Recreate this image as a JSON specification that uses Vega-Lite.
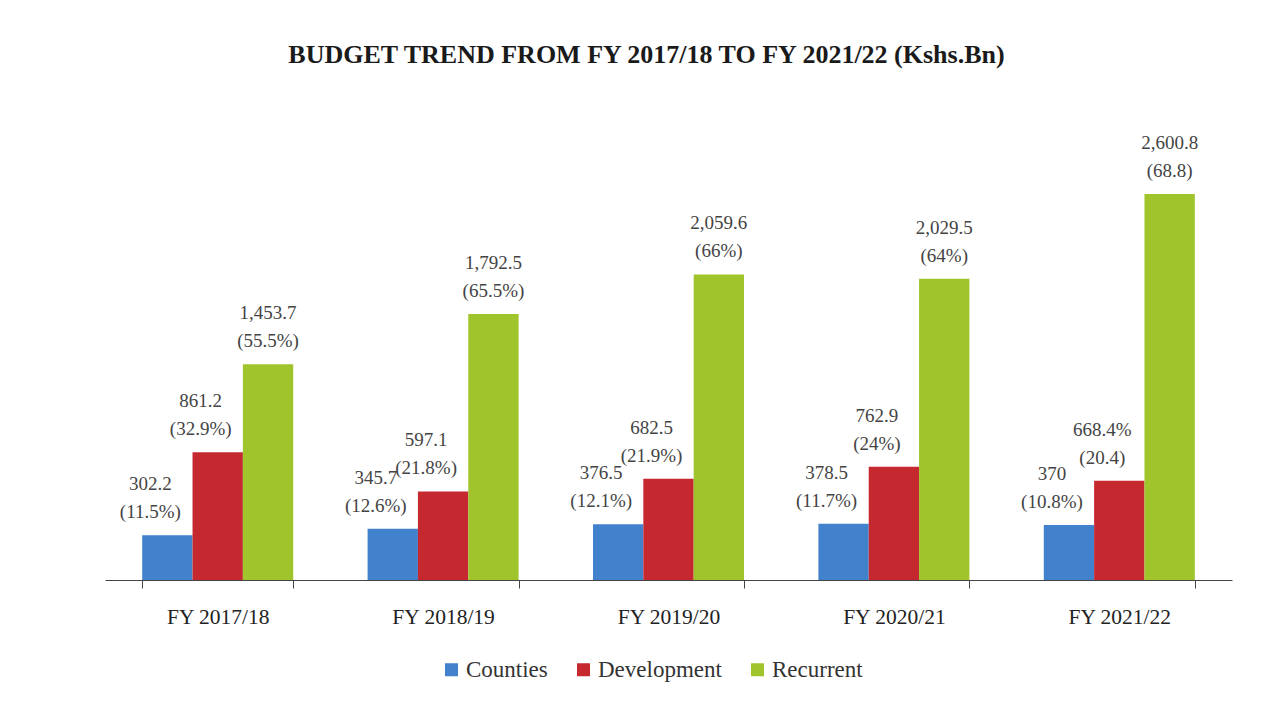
{
  "$schema": "https://vega.github.io/schema/vega-lite/v6.json",
  "width": 1127,
  "height": 460,
  "padding": {"left": 105, "top": 42, "right": 40, "bottom": 10},
  "background": "white",
  "title": {
    "text": "BUDGET TREND FROM FY 2017/18 TO FY 2021/22 (Kshs.Bn)",
    "font": "Liberation Serif",
    "fontSize": 26,
    "fontWeight": "bold",
    "color": "#1a1a1a",
    "anchor": "middle",
    "dx": -22,
    "offset": 52
  },
  "data": {
    "values": [
      {"year": "FY 2017/18", "category": "Counties", "value": 302.2, "label": "302.2\n(11.5%)"},
      {"year": "FY 2017/18", "category": "Development", "value": 861.2, "label": "861.2\n(32.9%)"},
      {"year": "FY 2017/18", "category": "Recurrent", "value": 1453.7, "label": "1,453.7\n(55.5%)"},
      {"year": "FY 2018/19", "category": "Counties", "value": 345.7, "label": "345.7\n(12.6%)"},
      {"year": "FY 2018/19", "category": "Development", "value": 597.1, "label": "597.1\n(21.8%)"},
      {"year": "FY 2018/19", "category": "Recurrent", "value": 1792.5, "label": "1,792.5\n(65.5%)"},
      {"year": "FY 2019/20", "category": "Counties", "value": 376.5, "label": "376.5\n(12.1%)"},
      {"year": "FY 2019/20", "category": "Development", "value": 682.5, "label": "682.5\n(21.9%)"},
      {"year": "FY 2019/20", "category": "Recurrent", "value": 2059.6, "label": "2,059.6\n(66%)"},
      {"year": "FY 2020/21", "category": "Counties", "value": 378.5, "label": "378.5\n(11.7%)"},
      {"year": "FY 2020/21", "category": "Development", "value": 762.9, "label": "762.9\n(24%)"},
      {"year": "FY 2020/21", "category": "Recurrent", "value": 2029.5, "label": "2,029.5\n(64%)"},
      {"year": "FY 2021/22", "category": "Counties", "value": 370, "label": "370\n(10.8%)"},
      {"year": "FY 2021/22", "category": "Development", "value": 668.4, "label": "668.4%\n(20.4)"},
      {"year": "FY 2021/22", "category": "Recurrent", "value": 2600.8, "label": "2,600.8\n(68.8)"}
    ]
  },
  "encoding": {
    "x": {
      "field": "year",
      "type": "nominal",
      "sort": null,
      "title": null,
      "scale": {"paddingInner": 0.33, "paddingOuter": 0.165},
      "axis": {
        "labelAngle": 0,
        "labelFont": "Liberation Serif",
        "labelFontSize": 21.5,
        "labelColor": "#222",
        "labelPadding": 18,
        "domainColor": "#444",
        "tickColor": "#444",
        "tickSize": 8,
        "tickBand": "extent",
        "grid": false
      }
    },
    "xOffset": {
      "field": "category",
      "type": "nominal",
      "sort": ["Counties", "Development", "Recurrent"],
      "scale": {"paddingInner": 0, "paddingOuter": 0}
    },
    "y": {
      "field": "value",
      "type": "quantitative",
      "scale": {"domain": [0, 3100]},
      "axis": null
    }
  },
  "layer": [
    {
      "mark": {"type": "bar"},
      "encoding": {
        "color": {
          "field": "category",
          "type": "nominal",
          "scale": {
            "domain": ["Counties", "Development", "Recurrent"],
            "range": ["#4281CC", "#C5282F", "#9FC42C"]
          },
          "legend": {
            "title": null,
            "orient": "none",
            "direction": "horizontal",
            "legendX": 335,
            "legendY": 538,
            "symbolType": "square",
            "symbolSize": 169,
            "symbolStrokeWidth": 0,
            "labelFont": "Liberation Serif",
            "labelFontSize": 23,
            "labelColor": "#333",
            "labelOffset": 3,
            "columnPadding": 24
          }
        }
      }
    },
    {
      "transform": [{"filter": "datum.category !== 'Recurrent'"}],
      "mark": {
        "type": "text",
        "lineBreak": "\n",
        "lineHeight": 28,
        "baseline": "bottom",
        "dy": -41,
        "dx": -17,
        "font": "Liberation Serif",
        "fontSize": 19,
        "color": "#444"
      },
      "encoding": {"text": {"field": "label", "type": "nominal"}}
    },
    {
      "transform": [{"filter": "datum.category === 'Recurrent'"}],
      "mark": {
        "type": "text",
        "lineBreak": "\n",
        "lineHeight": 28,
        "baseline": "bottom",
        "dy": -41,
        "font": "Liberation Serif",
        "fontSize": 19,
        "color": "#444"
      },
      "encoding": {"text": {"field": "label", "type": "nominal"}}
    }
  ],
  "config": {"view": {"stroke": null}}
}
